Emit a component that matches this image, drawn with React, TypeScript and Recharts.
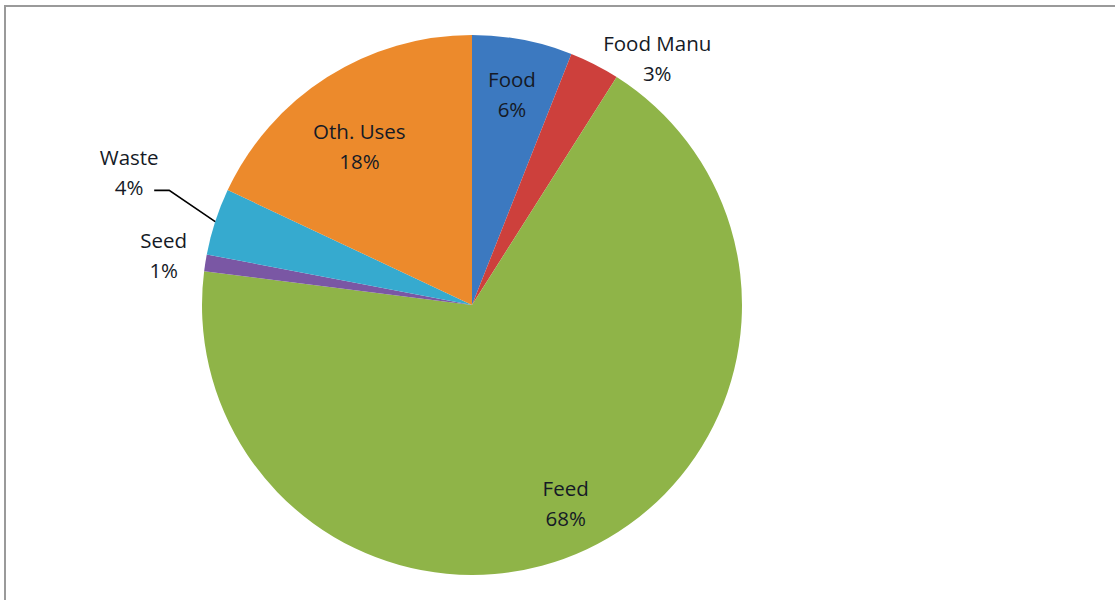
import React from "react";
import { PieChart, Pie, Cell } from "recharts";

const categories = ["Food", "Food Manu", "Feed", "Seed", "Waste", "Oth. Uses"];
const shares = [6, 3, 68, 1, 4, 18];
const percentLabels = ["6%", "3%", "68%", "1%", "4%", "18%"];

const colors = ["#3C79C0", "#CD403C", "#8FB448", "#7A57A4", "#36AACF", "#EC8A2C"];
// label placement: radius factor (of outer radius) and angle shift (deg) from slice mid-angle
const labelRadius = [0.79, 1.14, 0.815, 1.156, 1.36, 0.72];
const labelAngleShift = [0, -10, 0, 0, -3, 3];

const data = categories.map((name, i) => ({ name, value: shares[i], pct: percentLabels[i] }));

const RAD = Math.PI / 180;

const renderLabel = (props: any) => {
  const { cx, cy, midAngle, outerRadius, index } = props;
  const a = (midAngle + labelAngleShift[index]) * RAD;
  const r = outerRadius * labelRadius[index];
  const x = cx + r * Math.cos(a);
  const y = cy - r * Math.sin(a);
  const name = data[index].name;
  let leader: React.ReactNode = null;
  if (name === "Waste") {
    const m = midAngle * RAD;
    const sx = cx + outerRadius * Math.cos(m);
    const sy = cy - outerRadius * Math.sin(m);
    const ex = x + 25;
    const ey = y + 17;
    leader = (
      <polyline
        points={`${sx},${sy} ${ex + 15},${ey} ${ex},${ey}`}
        fill="none"
        stroke="#000"
        strokeWidth={1.6}
      />
    );
  }
  return (
    <g key={`lbl-${index}`}>
      {leader}
      <text
        x={x}
        y={y}
        textAnchor="middle"
        fill="#151a26"
        fontSize={20.5}
        fontFamily="'Open Sans', sans-serif"
      >
        <tspan x={x} dy={-8}>{name}</tspan>
        <tspan x={x} dy={30}>{data[index].pct}</tspan>
      </text>
    </g>
  );
};

export default function App() {
  return (
    <div style={{ position: "absolute", left: 0, top: 0, width: 1115, height: 600, background: "#fff" }}>
      <div
        style={{
          position: "absolute",
          left: 4,
          top: 5,
          right: 0,
          bottom: 0,
          borderTop: "2px solid #9a9a9a",
          borderLeft: "2px solid #9a9a9a",
        }}
      />
      <div style={{ position: "absolute", left: 0, top: 0 }}>
        <PieChart width={1115} height={600} margin={{ top: 0, right: 0, bottom: 0, left: 0 }}>
          <Pie
            data={data}
            dataKey="value"
            nameKey="name"
            cx={472}
            cy={305}
            outerRadius={270}
            startAngle={90}
            endAngle={-270}
            stroke="none"
            label={renderLabel}
            labelLine={false}
            isAnimationActive={false}
          >
            {data.map((d, i) => (
              <Cell key={d.name} fill={colors[i]} />
            ))}
          </Pie>
        </PieChart>
      </div>
    </div>
  );
}
